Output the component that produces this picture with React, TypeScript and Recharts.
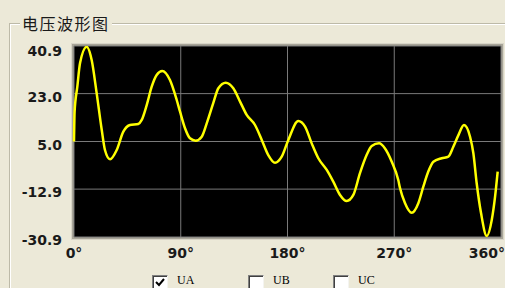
import React from 'react'
import { LineChart, Line, XAxis, YAxis, CartesianGrid } from 'recharts'

// phase angle (deg) and UA voltage
const angles = [
  0, 0.5, 2.8, 5.1, 10.7, 14.9, 19.1, 23.4, 26.1, 30.4, 36.0, 41.6, 47.2, 54.2, 57.1, 61.3, 65.5, 69.7, 74.4,
  80.9, 86.6, 89.4, 93.6, 97.8, 102.6, 107.7, 111.9, 117.4, 121.7, 127.9, 134.3, 140.0, 145.6, 152.6, 158.3,
  163.8, 169.5, 175.1, 180.7, 189.1, 194.8, 200.4, 206.0, 213.1, 218.6, 224.3, 229.9, 235.5, 241.1, 246.8,
  251.0, 257.2, 262.2, 267.9, 273.4, 274.9, 279.1, 284.7, 290.3, 294.5, 298.7, 303.0, 310.0, 315.6, 319.8,
  324.1, 328.8, 333.9, 336.7, 339.5, 343.2, 348.0, 352.2, 355.0, 357.2,
]
const uaValues = [
  5.0, 16.2, 25.6, 34.5, 40.6, 35.6, 23.2, 9.3, 1.8, -1.7, 1.8, 8.7, 11.2, 11.6, 13.1, 18.7, 25.6, 30.0, 31.5,
  28.1, 20.6, 16.2, 10.0, 6.2, 5.3, 6.8, 11.8, 19.4, 25.0, 27.1, 25.0, 20.0, 15.0, 11.2, 5.6,
  -0.1, -3.0, -0.7, 5.6, 12.7, 10.6, 4.3, -1.3, -5.7, -10.1, -15.1, -17.4, -15.1, -6.9, 0.0,
  3.3, 4.3, 2.4, -2.6, -9.5, -12.6, -18.2, -21.8, -18.2, -12.0, -6.3, -2.6, -1.3, -0.7, 3.0,
  7.4, 11.2, 6.8, 0.6, -10.7, -22.0, -30.5, -24.5, -15.7, -6.3,
]

const xTicks = [0, 90, 180, 270, 360]
const yTicks = [-30.9, -12.9, 5.0, 23.0, 40.9]
const channels = ['UA', 'UB', 'UC']
const checked = [true, false, false]

const data = angles.map((a, i) => ({ deg: a, ua: uaValues[i] }))

const tickFont = { fontFamily: 'DejaVu Sans', fontWeight: 'bold' as const, fontSize: 14, fill: '#1a1a1a' }

function YTick({ x, y, payload }: any) {
  const dy = payload.value === 40.9 ? 5 : 3
  return (
    <text x={62} y={y + dy} textAnchor="end" dominantBaseline="central" {...tickFont}>
      {Number(payload.value).toFixed(1)}
    </text>
  )
}

function XTick({ x, y, payload }: any) {
  const last = payload.value === 360
  return (
    <text x={last ? 505 : x} y={253} textAnchor={last ? 'end' : 'middle'} dominantBaseline="central" {...tickFont}>
      {payload.value + '°'}
    </text>
  )
}

function CheckBox({ left, label, on }: { left: number; label: string; on: boolean }) {
  return (
    <>
      <div
        style={{
          position: 'absolute', left, top: 275, width: 16, height: 16, boxSizing: 'border-box', background: '#fff',
          borderTop: '1px solid #808080', borderLeft: '1px solid #808080',
          borderRight: '1px solid #f4f4f0', borderBottom: '1px solid #f4f4f0',
          boxShadow: 'inset 1px 1px 0 #404040',
        }}
      >
        {on && (
          <svg width={14} height={14} style={{ position: 'absolute', left: 0, top: 0 }}>
            <path d="M3 6 L6 9 L11 3" stroke="#000" strokeWidth={2} fill="none" />
          </svg>
        )}
      </div>
      <span
        style={{
          position: 'absolute', left: left + 25, top: 274, fontFamily: 'Liberation Serif', fontSize: 12,
          lineHeight: '13px', color: '#000',
        }}
      >
        {label}
      </span>
    </>
  )
}

export default function App() {
  return (
    <div style={{ position: 'fixed', left: 0, top: 0, width: 505, height: 288, background: '#ECE9D8', overflow: 'hidden' }}>
      {/* group box */}
      <div
        style={{
          position: 'absolute', left: 9, top: 23, width: 600, height: 400, boxSizing: 'border-box',
          border: '1px solid #BDBAA8', boxShadow: 'inset 1px 1px 0 #fff',
        }}
      />
      <div
        style={{
          position: 'absolute', left: 20, top: 13, padding: '0 2px', background: '#ECE9D8', color: '#1a1a1a',
          fontFamily: 'Noto Sans CJK SC', fontSize: 16, letterSpacing: 1.5, lineHeight: '20px',
        }}
      >
        电压波形图
      </div>
      {/* plot frame */}
      <div
        style={{
          position: 'absolute', left: 71, top: 43, width: 433, height: 197, boxSizing: 'border-box',
          background: '#C8C5B8', border: '1px solid #D8D5C8', boxShadow: 'inset 0 0 0 2px #A8A598',
        }}
      />
      <div style={{ position: 'absolute', left: 0, top: 0 }}>
        <LineChart width={505} height={288} data={data} margin={{ top: 46, right: 4, left: 0, bottom: 21 }}>
          <CartesianGrid fill="#000" stroke="#7a7a7a" strokeWidth={1} />
          <XAxis
            dataKey="deg" type="number" domain={[0, 360]} ticks={xTicks} height={30}
            axisLine={false} tickLine={false} tick={<XTick />} interval={0}
          />
          <YAxis
            type="number" domain={[-30.9, 40.9]} ticks={yTicks} width={74}
            axisLine={false} tickLine={false} tick={<YTick />} interval={0} allowDataOverflow
          />
          <Line
            type="monotone" dataKey="ua" stroke="#FFFF00" strokeWidth={2.5} dot={false}
            isAnimationActive={false}
          />
        </LineChart>
      </div>
      {channels.map((c, i) => (
        <CheckBox key={c} left={[152, 248, 333][i]} label={c} on={checked[i]} />
      ))}
    </div>
  )
}
